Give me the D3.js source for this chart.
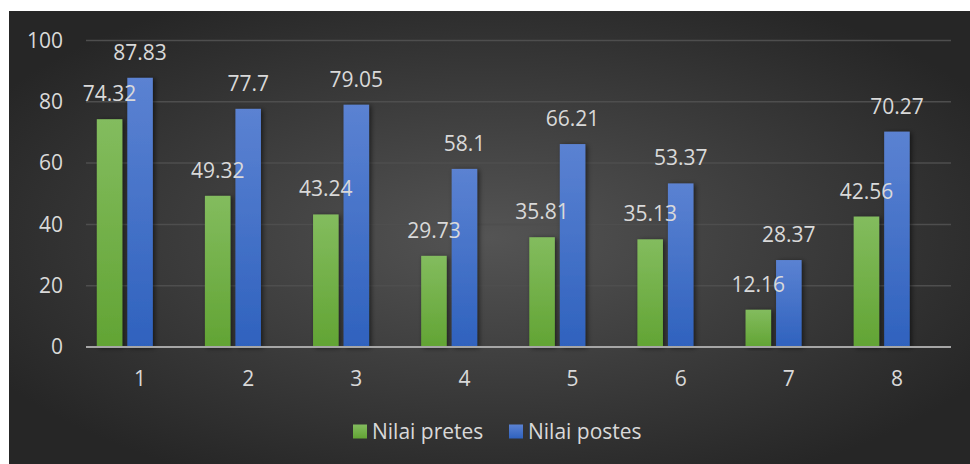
<!DOCTYPE html>
<html>
<head>
<meta charset="utf-8">
<script src="https://cdn.jsdelivr.net/npm/d3@7"></script>
<style>
  html, body { margin: 0; padding: 0; background: #ffffff; }
  svg { display: block; }
  text { font-family: "Open Sans", Lato, sans-serif; }
</style>
</head>
<body>
<svg id="chart" width="970" height="464"></svg>
<script>
const categories = ["1", "2", "3", "4", "5", "6", "7", "8"];
const seriesNames = ["Nilai pretes", "Nilai postes"];
const pretes = [74.32, 49.32, 43.24, 29.73, 35.81, 35.13, 12.16, 42.56];
const postes = [87.83, 77.7, 79.05, 58.1, 66.21, 53.37, 28.37, 70.27];
const yTicks = [0, 20, 40, 60, 80, 100];

const FONT = "'Open Sans', Lato, sans-serif";
const FS = 21;
const svg = d3.select("#chart");
const frame = { x: 9, y: 11, w: 961, h: 453 };
const plot = { left: 86, right: 951, top: 40.5, bottom: 347 };

const defs = svg.append("defs");
const bg = defs.append("radialGradient").attr("id", "bg")
  .attr("cx", "50%").attr("cy", "50%").attr("r", "60%");
bg.append("stop").attr("offset", "0%").attr("stop-color", "#545454");
bg.append("stop").attr("offset", "100%").attr("stop-color", "#262626");

const gGreen = defs.append("linearGradient").attr("id", "gGreen")
  .attr("x1", 0).attr("y1", 0).attr("x2", 0).attr("y2", 1);
gGreen.append("stop").attr("offset", "0%").attr("stop-color", "#83bc5e");
gGreen.append("stop").attr("offset", "100%").attr("stop-color", "#62a434");
const gBlue = defs.append("linearGradient").attr("id", "gBlue")
  .attr("x1", 0).attr("y1", 0).attr("x2", 0).attr("y2", 1);
gBlue.append("stop").attr("offset", "0%").attr("stop-color", "#5b82d2");
gBlue.append("stop").attr("offset", "100%").attr("stop-color", "#2f62be");

const shadow = defs.append("filter").attr("id", "shadow")
  .attr("x", "-30%").attr("y", "-10%").attr("width", "160%").attr("height", "120%");
shadow.append("feDropShadow").attr("dx", 2).attr("dy", 1).attr("stdDeviation", 2.5)
  .attr("flood-color", "#000").attr("flood-opacity", 0.55);

svg.append("rect").attr("x", frame.x).attr("y", frame.y)
  .attr("width", frame.w).attr("height", frame.h).attr("fill", "url(#bg)");

const x0 = d3.scaleBand().domain(categories)
  .range([plot.left, plot.right]).paddingInner(0.2).paddingOuter(0.1);
// third slot is an empty series in the original chart
const x1 = d3.scaleBand().domain(["pretes", "postes", "empty"])
  .range([0, x0.bandwidth()]).paddingInner(0.164).paddingOuter(0);
const y = d3.scaleLinear().domain([0, 100]).range([plot.bottom, plot.top]);

// gridlines
svg.append("g").selectAll("line").data(yTicks.filter(d => d > 0)).join("line")
  .attr("x1", plot.left).attr("x2", plot.right)
  .attr("y1", d => y(d)).attr("y2", d => y(d))
  .attr("stroke", "#4e4e4e").attr("stroke-width", 1.5);

// y axis labels
const yAxis = d3.axisLeft(y).tickValues(yTicks).tickSize(0).tickPadding(23);
const ya = svg.append("g").attr("transform", `translate(${plot.left},0)`).call(yAxis);
ya.select(".domain").remove();
ya.selectAll("text").attr("fill", "#d9d9d9").attr("font-size", FS).attr("font-family", FONT);

const data = categories.map((c, i) => ({ c, pretes: pretes[i], postes: postes[i] }));
const series = [
  { key: "pretes", fill: "url(#gGreen)" },
  { key: "postes", fill: "url(#gBlue)" }
];

const bars = svg.append("g");
series.forEach(s => {
  bars.append("g").selectAll("rect").data(data).join("rect")
    .attr("x", d => x0(d.c) + x1(s.key))
    .attr("width", x1.bandwidth())
    .attr("y", d => y(d[s.key]))
    .attr("height", d => y(0) - y(d[s.key]))
    .attr("fill", s.fill)
    .attr("filter", "url(#shadow)");
});

// zero axis line
svg.append("line").attr("x1", plot.left).attr("x2", plot.right)
  .attr("y1", y(0)).attr("y2", y(0))
  .attr("stroke", "#a6a6a6").attr("stroke-width", 2);

// x axis labels
const xAxis = d3.axisBottom(x0).tickSize(0).tickPadding(24);
const xa = svg.append("g").attr("transform", `translate(0,${plot.bottom})`).call(xAxis);
xa.select(".domain").remove();
xa.selectAll("text").attr("fill", "#d9d9d9").attr("font-size", FS).attr("font-family", FONT);

// value labels
const labels = svg.append("g");
series.forEach(s => {
  labels.append("g").selectAll("text").data(data).join("text")
    .attr("x", d => x0(d.c) + x1(s.key) + x1.bandwidth() / 2)
    .attr("y", d => y(d[s.key]) - 18)
    .attr("text-anchor", "middle")
    .attr("fill", "#d9d9d9").attr("font-size", FS).attr("font-family", FONT)
    .text(d => String(d[s.key]));
});

// legend
const legend = svg.append("g");
const legendItems = [
  { name: seriesNames[0], fill: "url(#gGreen)", x: 353 },
  { name: seriesNames[1], fill: "url(#gBlue)", x: 509 }
];
legendItems.forEach(it => {
  legend.append("rect").attr("x", it.x).attr("y", 424.5)
    .attr("width", 14).attr("height", 14).attr("fill", it.fill);
  legend.append("text").attr("x", it.x + 19).attr("y", 432)
    .attr("dy", "0.35em").attr("fill", "#d9d9d9").attr("font-size", FS).attr("font-family", FONT)
    .text(it.name);
});
</script>
</body>
</html>
